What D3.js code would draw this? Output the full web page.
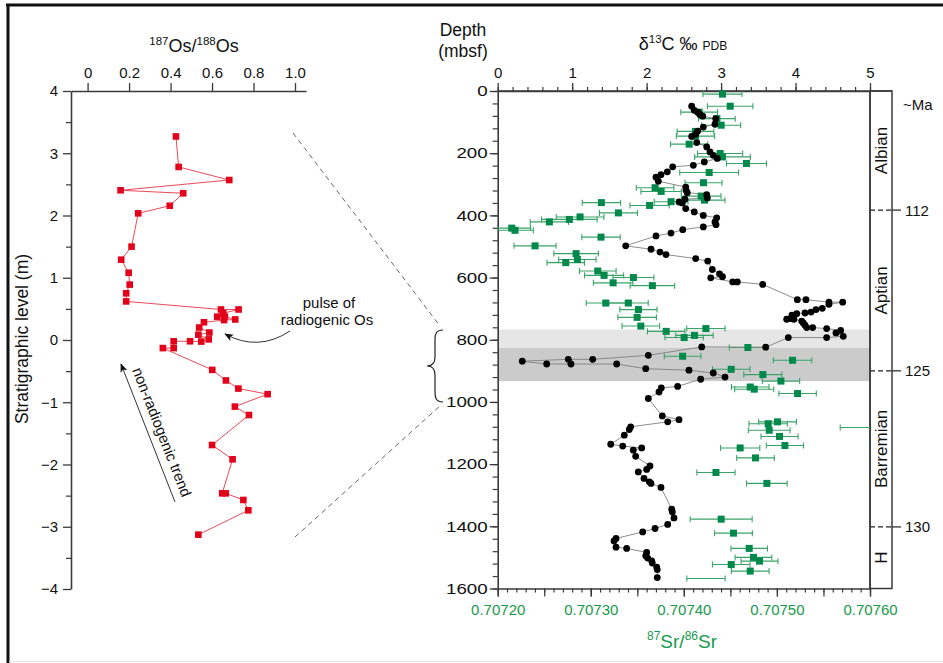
<!DOCTYPE html>
<html>
<head>
<meta charset="utf-8">
<script src="https://cdn.jsdelivr.net/npm/d3@7"></script>
<style>
  body { margin: 0; background: #fff; }
  svg { display: block; font-family: "Liberation Sans", Arial, sans-serif; }
</style>
</head>
<body>
<svg id="fig" width="943" height="663"></svg>
<script>
// ---------- Os isotope profile (stratigraphic level in m, 187Os/188Os) ----------
const osLevel = [3.27, 2.78, 2.57, 2.405, 2.357, 2.157, 2.035, 1.50, 1.29, 1.08,
  0.89, 0.75, 0.62, 0.49, 0.49, 0.43, 0.375, 0.375, 0.33, 0.32,
  0.285, 0.20, 0.12, 0.085, 0.01, -0.025, -0.02, -0.02, -0.13, -0.13,
  -0.48, -0.65, -0.78, -0.87, -1.07, -1.205, -1.687, -1.917, -2.463, -2.463,
  -2.57, -2.736, -3.127];
const osRatio = [0.426, 0.439, 0.683, 0.159, 0.461, 0.396, 0.244, 0.212, 0.162, 0.198,
  0.203, 0.186, 0.186, 0.643, 0.728, 0.654, 0.625, 0.662, 0.712, 0.658,
  0.561, 0.538, 0.587, 0.534, 0.584, 0.548, 0.494, 0.415, 0.415, 0.363,
  0.601, 0.667, 0.727, 0.868, 0.710, 0.778, 0.600, 0.699, 0.649, 0.666,
  0.751, 0.775, 0.534];
const osTicks = [0, 0.2, 0.4, 0.6, 0.8, 1.0];
const levelTicks = [-4, -3, -2, -1, 0, 1, 2, 3, 4];

// ---------- Carbon isotope profile (depth mbsf, d13C permil PDB) ----------
const carbonDepth = [49, 62, 68, 76, 81, 89, 107, 116, 129, 139,
  146, 166, 180, 196, 207, 217, 228, 239, 244, 260,
  269, 277, 290, 309, 319, 327, 333, 344, 348, 357,
  360, 378, 389, 400, 408, 421, 430, 437, 446, 457,
  466, 498, 509, 518, 526, 539, 547, 574, 588, 597,
  601, 614, 614, 622, 671, 671, 679, 679, 686, 699,
  703, 711, 714, 716, 721, 732, 734, 734, 740, 746,
  753, 761, 761, 764, 770, 778, 789, 793, 793, 824,
  823, 850, 863, 863, 869, 878, 878, 878, 893, 898,
  907, 920, 927, 950, 955, 968, 989, 1045, 1057, 1064,
  1080, 1089, 1107, 1136, 1142, 1148, 1155, 1175, 1206, 1217,
  1225, 1246, 1257, 1262, 1275, 1345, 1354, 1373, 1394, 1407,
  1418, 1439, 1447, 1467, 1471, 1484, 1495, 1502, 1511, 1518,
  1531, 1539, 1565];
const carbonValue = [2.605, 2.640, 2.686, 2.717, 2.753, 2.928, 2.918, 2.761, 2.686, 2.659,
  2.605, 2.673, 2.807, 2.851, 2.896, 2.949, 2.775, 2.627, 2.350, 2.278,
  2.193, 2.126, 2.157, 2.525, 2.529, 2.546, 2.807, 2.815, 2.515, 2.435,
  2.479, 2.525, 2.640, 2.761, 2.941, 2.918, 2.932, 2.761, 2.485, 2.327,
  2.126, 1.719, 2.059, 2.180, 2.260, 2.659, 2.820, 2.882, 2.979, 3.019,
  2.861, 3.156, 3.218, 3.559, 4.024, 4.140, 4.449, 4.633, 4.449, 4.359,
  4.275, 4.208, 4.127, 4.016, 3.952, 3.935, 3.881, 3.979, 4.083, 4.104,
  4.127, 4.150, 4.230, 4.418, 4.606, 4.543, 4.641, 4.418, 3.903, 3.599,
  2.740, 2.023, 1.276, 0.948, 0.330, 0.658, 0.984, 1.598, 1.988, 2.569,
  2.895, 3.053, 2.726, 2.417, 2.197, 2.166, 2.023, 2.211, 2.435, 2.283,
  1.786, 1.767, 1.700, 1.518, 1.679, 1.934, 1.821, 1.853, 2.045, 2.001,
  1.888, 1.965, 2.036, 2.059, 2.193, 2.337, 2.345, 2.368, 2.283, 2.113,
  1.947, 1.589, 1.562, 1.589, 1.732, 2.001, 1.988, 2.014, 2.068, 2.076,
  2.135, 2.143, 2.143];

// ---------- Strontium isotope profile (depth mbsf, 87Sr/86Sr, 2 s.e.) ----------
const srDepth = [10, 49, 68, 89, 110, 130, 145, 171, 201, 212,
  233, 262, 295, 311, 323, 338, 351, 356, 359, 368,
  392, 405, 413, 421, 441, 448, 470, 498, 523, 542,
  552, 579, 593, 600, 617, 626, 682, 682, 703, 728,
  756, 773, 764, 786, 793, 825, 853, 866, 895, 912,
  933, 952, 959, 973, 1064, 1070, 1082, 1091, 1111, 1140,
  1148, 1180, 1227, 1262, 1377, 1422, 1471, 1500, 1512, 1523,
  1544];
const srValue = [0.7074415, 0.7074498, 0.7074165, 0.7074355, 0.7074401, 0.7074125, 0.7074125, 0.7074057, 0.7074390, 0.7074415,
  0.7074673, 0.7074272, 0.7074211, 0.7073691, 0.7073756, 0.7074186, 0.7074222, 0.7073863, 0.7073114, 0.7073632,
  0.7073297, 0.7072885, 0.7072770, 0.7072555, 0.7072151, 0.7072186, 0.7073110, 0.7072401, 0.7072842, 0.7072856,
  0.7072731, 0.7073075, 0.7073143, 0.7073458, 0.7073240, 0.7073662, 0.7073161, 0.7073404, 0.7073512, 0.7073498,
  0.7073538, 0.7073810, 0.7074237, 0.7074114, 0.7074003, 0.7074688, 0.7073987, 0.7075168, 0.7074509, 0.7074849,
  0.7075043, 0.7074713, 0.7074756, 0.7075222, 0.7075006, 0.7074906, 0.7076100, 0.7074917, 0.7075028, 0.7075086,
  0.7074605, 0.7074770, 0.7074345, 0.7074892, 0.7074401, 0.7074533, 0.7074702, 0.7074748, 0.7074813, 0.7074509,
  0.7074713];
const srErr = [0.0000210, 0.0000244, 0.0000197, 0.0000197, 0.0000209, 0.0000197, 0.0000206, 0.0000200, 0.0000242, 0.0000299,
  0.0000215, 0.0000316, 0.0000199, 0.0000202, 0.0000217, 0.0000213, 0.0000220, 0.0000181, 0.0000206, 0.0000211,
  0.0000204, 0.0000256, 0.0000299, 0.0000206, 0.0000202, 0.0000197, 0.0000206, 0.0000226, 0.0000239, 0.0000201,
  0.0000201, 0.0000197, 0.0000210, 0.0000220, 0.0000212, 0.0000239, 0.0000210, 0.0000213, 0.0000200, 0.0000207,
  0.0000202, 0.0000201, 0.0000206, 0.0000201, 0.0000206, 0.0000199, 0.0000197, 0.0000206, 0.0000201, 0.0000205,
  0.0000201, 0.0000202, 0.0000210, 0.0000201, 0.0000203, 0.0000206, 0.0000420, 0.0000224, 0.0000199, 0.0000200,
  0.0000211, 0.0000202, 0.0000205, 0.0000218, 0.0000333, 0.0000203, 0.0000196, 0.0000197, 0.0000198, 0.0000202,
  0.0000203];
// sample with error range only (no mean symbol plotted)
const srRangeOnlyDepth = [1568];
const srRangeOnlyValue = [0.7074238];
const srRangeOnlyErr = [0.0000206];

const depthTicks = [0, 200, 400, 600, 800, 1000, 1200, 1400, 1600];
const carbonTicks = [0, 1, 2, 3, 4, 5];
const srTicks = [0.70720, 0.70730, 0.70740, 0.70750, 0.70760];

// stage boundaries (mbsf) with ages and stage names
const ageDepth = [383, 900, 1402];
const ageLabel = ["112", "125", "130"];
const stageTop = [0, 383, 900, 1402];
const stageBottom = [383, 900, 1402, 1600];
const stageName = ["Albian", "Aptian", "Barremian", "H"];

// shaded intervals (mbsf)
const bandTop = [767, 826];
const bandBottom = [826, 933];

// ================= drawing =================
const svg = d3.select("#fig");
const AXIS = "#3a3a3a";
const GREEN = "#179a4c";
const RED = "#e2001a";

// figure frame
svg.append("line").attr("x1", 6).attr("x2", 943).attr("y1", 5).attr("y2", 5)
  .attr("stroke", "#111").attr("stroke-width", 3);
svg.append("line").attr("x1", 8).attr("x2", 8).attr("y1", 4).attr("y2", 663)
  .attr("stroke", "#111").attr("stroke-width", 3);
svg.append("line").attr("x1", 9).attr("x2", 943).attr("y1", 661.5).attr("y2", 661.5)
  .attr("stroke", "#e2e2e2").attr("stroke-width", 1);

const defs = svg.append("defs");
defs.append("marker").attr("id", "arrow").attr("viewBox", "0 0 10 10")
  .attr("refX", 9).attr("refY", 5).attr("markerWidth", 9).attr("markerHeight", 9)
  .attr("markerUnits", "userSpaceOnUse").attr("orient", "auto")
  .append("path").attr("d", "M0,1 L10,5 L0,9 L2.5,5 Z").attr("fill", "#111");

function styleAxis(g, size) {
  g.select(".domain").attr("stroke", AXIS).attr("stroke-width", 1.6);
  g.selectAll(".tick line").attr("stroke", AXIS).attr("stroke-width", 1.3);
  g.selectAll(".tick text").attr("font-size", size).attr("fill", "#111")
    .attr("font-family", '"Liberation Sans", Arial, sans-serif');
}
function minorAxis(g) {
  g.select(".domain").remove();
  g.selectAll(".tick line").attr("stroke", AXIS).attr("stroke-width", 1.2);
}

// ---------------- left panel: Os ----------------
const osX = d3.scaleLinear().domain([-0.08, 1.053]).range([71, 306]);
const levelY = d3.scaleLinear().domain([4, -4]).range([91, 589]);

const gOsTop = svg.append("g").attr("transform", `translate(0,${levelY(4)})`)
  .call(d3.axisTop(osX).tickValues(osTicks)
    .tickFormat(d => d === 0 ? "0" : d3.format(".1f")(d))
    .tickSize(8).tickSizeOuter(0).tickPadding(5));
styleAxis(gOsTop, 15);

const gLevMinor = svg.append("g").attr("transform", `translate(${osX.range()[0]},0)`)
  .call(d3.axisLeft(levelY).tickValues(d3.range(-3.5, 4, 1)).tickSize(5).tickFormat(""));
minorAxis(gLevMinor);
const gLev = svg.append("g").attr("transform", `translate(${osX.range()[0]},0)`)
  .call(d3.axisLeft(levelY).tickValues(levelTicks).tickFormat(d3.format("d"))
    .tickSize(8).tickSizeOuter(0).tickPadding(5));
styleAxis(gLev, 15);

// title and axis label
const osTitle = svg.append("text").attr("x", 194).attr("y", 52)
  .attr("text-anchor", "middle").attr("font-size", 18).attr("fill", "#111");
osTitle.append("tspan").attr("font-size", 11.5).attr("dy", -7).text("187");
osTitle.append("tspan").attr("dy", 7).text("Os/");
osTitle.append("tspan").attr("font-size", 11.5).attr("dy", -7).text("188");
osTitle.append("tspan").attr("dy", 7).text("Os");

svg.append("text").attr("transform", "translate(28,339) rotate(-90)")
  .attr("text-anchor", "middle").attr("font-size", 17.5).attr("fill", "#111")
  .text("Stratigraphic level (m)");

// Os line and markers
const osPts = osLevel.map((l, i) => [osX(osRatio[i]), levelY(l)]);
svg.append("path").attr("d", d3.line()(osPts))
  .attr("fill", "none").attr("stroke", "#ea4a5a").attr("stroke-width", 1);
svg.append("g").selectAll("rect").data(osPts).join("rect")
  .attr("x", d => d[0] - 3.3).attr("y", d => d[1] - 3.3)
  .attr("width", 6.6).attr("height", 6.6).attr("fill", RED);

// annotations
svg.append("text").attr("x", 329).attr("y", 308).attr("text-anchor", "middle")
  .attr("font-size", 15).attr("fill", "#111").text("pulse of");
svg.append("text").attr("x", 327).attr("y", 325).attr("text-anchor", "middle")
  .attr("font-size", 15).attr("fill", "#111").text("radiogenic Os");
svg.append("path").attr("d", "M290,331 Q258,352 225,334")
  .attr("fill", "none").attr("stroke", "#333").attr("stroke-width", 1)
  .attr("marker-end", "url(#arrow)");

svg.append("line").attr("x1", 175).attr("y1", 502).attr("x2", 121).attr("y2", 364)
  .attr("stroke", "#333").attr("stroke-width", 1).attr("marker-end", "url(#arrow)");
svg.append("text").attr("transform", "translate(157,434) rotate(68.6)")
  .attr("text-anchor", "middle").attr("font-size", 15).attr("fill", "#111")
  .text("non-radiogenic trend");

// connector lines and brace
svg.append("line").attr("x1", 293).attr("y1", 133).attr("x2", 440).attr("y2", 326)
  .attr("stroke", "#555").attr("stroke-width", 0.9).attr("stroke-dasharray", "5,4");
svg.append("line").attr("x1", 295).attr("y1", 537).attr("x2", 441).attr("y2", 405)
  .attr("stroke", "#555").attr("stroke-width", 0.9).attr("stroke-dasharray", "5,4");
svg.append("path")
  .attr("d", "M443,330 C436,330 435,334 435,340 L435,357 C435,363 432,366 427,366 C432,366 435,369 435,375 L435,392 C435,398 436,402 443,402")
  .attr("fill", "none").attr("stroke", "#222").attr("stroke-width", 1.2);

// ---------------- right panel: d13C and Sr ----------------
const depthY = d3.scaleLinear().domain([0, 1600]).range([91, 588.5]);
const cX = d3.scaleLinear().domain([0, 5]).range([497.7, 870]);
const srX = d3.scaleLinear().domain([0.70720, 0.70760]).range([497.7, 870]);
const stageX0 = 870, stageX1 = 892;

// shaded intervals
svg.append("g").selectAll("rect").data(bandTop).join("rect")
  .attr("x", cX(0)).attr("width", cX(5) - cX(0))
  .attr("y", d => depthY(d)).attr("height", (d, i) => depthY(bandBottom[i]) - depthY(d))
  .attr("fill", (d, i) => i === 0 ? "#e6e6e6" : "#cbcbcb");

// stage column
svg.append("rect").attr("x", stageX0).attr("y", depthY(0))
  .attr("width", stageX1 - stageX0).attr("height", depthY(1600) - depthY(0))
  .attr("fill", "none").attr("stroke", AXIS).attr("stroke-width", 1.5);
svg.append("line").attr("x1", cX(0)).attr("x2", stageX1).attr("y1", depthY(0)).attr("y2", depthY(0))
  .attr("stroke", AXIS).attr("stroke-width", 1.6);

stageName.forEach((s, i) => {
  const yc = depthY((stageTop[i] + stageBottom[i]) / 2);
  svg.append("text").attr("transform", `translate(${(stageX0 + stageX1) / 2 + 6},${yc}) rotate(-90)`)
    .attr("text-anchor", "middle").attr("font-size", 17).attr("fill", "#111").text(s);
});
ageDepth.forEach((d, i) => {
  const y = depthY(d);
  svg.append("line").attr("x1", stageX0).attr("x2", stageX1).attr("y1", y).attr("y2", y)
    .attr("stroke", "#222").attr("stroke-width", 1.2).attr("stroke-dasharray", "5,3");
  svg.append("line").attr("x1", stageX1).attr("x2", stageX1 + 9).attr("y1", y).attr("y2", y)
    .attr("stroke", "#222").attr("stroke-width", 1.2);
  svg.append("text").attr("x", stageX1 + 13).attr("y", y + 5.5)
    .attr("font-size", 15).attr("fill", "#111").text(ageLabel[i]);
});
svg.append("text").attr("x", 903).attr("y", 110).attr("font-size", 15).attr("fill", "#111").text("~Ma");

// axes
const gCMinor = svg.append("g").attr("transform", `translate(0,${depthY(0)})`)
  .call(d3.axisTop(cX).tickValues(d3.range(0, 26).map(i => i * 0.2)).tickSize(4).tickFormat(""));
minorAxis(gCMinor);
const gC = svg.append("g").attr("transform", `translate(0,${depthY(0)})`)
  .call(d3.axisTop(cX).tickValues(carbonTicks).tickFormat(d3.format("d"))
    .tickSize(8).tickSizeOuter(0).tickPadding(5));
styleAxis(gC, 15);

const gDMinor = svg.append("g").attr("transform", `translate(${cX(0)},0)`)
  .call(d3.axisLeft(depthY).tickValues(d3.range(0, 41).map(i => i * 40)).tickSize(5).tickFormat(""));
minorAxis(gDMinor);
const gD = svg.append("g").attr("transform", `translate(${cX(0)},0)`)
  .call(d3.axisLeft(depthY).tickValues(depthTicks).tickFormat(d3.format("d"))
    .tickSize(8).tickSizeOuter(0).tickPadding(3));
styleAxis(gD, 15);
gD.selectAll(".tick text").attr("x", -10 / 1.25).attr("transform", "scale(1.25,1)");

const gSMinor = svg.append("g").attr("transform", `translate(0,${depthY(1600)})`)
  .call(d3.axisBottom(srX).tickValues(d3.range(0, 41).map(i => 0.7072 + i * 1e-5)).tickSize(4).tickFormat(""));
minorAxis(gSMinor);
const gSMid = svg.append("g").attr("transform", `translate(0,${depthY(1600)})`)
  .call(d3.axisBottom(srX).tickValues(d3.range(0, 9).map(i => 0.7072 + i * 5e-5)).tickSize(8).tickFormat(""));
minorAxis(gSMid);
const gS = svg.append("g").attr("transform", `translate(0,${depthY(1600)})`)
  .call(d3.axisBottom(srX).tickValues(srTicks).tickFormat(d3.format(".5f"))
    .tickSize(8).tickSizeOuter(0).tickPadding(8));
styleAxis(gS, 15);
gS.selectAll(".tick text").attr("fill", GREEN);

// right-hand plot border
svg.append("line").attr("x1", cX(5)).attr("x2", cX(5)).attr("y1", depthY(0)).attr("y2", depthY(1600))
  .attr("stroke", AXIS).attr("stroke-width", 1.5);

// titles
svg.append("text").attr("x", 463).attr("y", 36).attr("text-anchor", "middle")
  .attr("font-size", 17.5).attr("fill", "#111").text("Depth");
svg.append("text").attr("x", 463).attr("y", 57).attr("text-anchor", "middle")
  .attr("font-size", 17.5).attr("fill", "#111").text("(mbsf)");

const cTitle = svg.append("text").attr("x", 683).attr("y", 50)
  .attr("text-anchor", "middle").attr("font-size", 18).attr("fill", "#111");
cTitle.append("tspan").text("δ");
cTitle.append("tspan").attr("font-size", 11.5).attr("dy", -7).text("13");
cTitle.append("tspan").attr("dy", 7).text("C ‰ ");
cTitle.append("tspan").attr("font-size", 12).text("PDB");

const sTitle = svg.append("text").attr("x", 682).attr("y", 648)
  .attr("text-anchor", "middle").attr("font-size", 19).attr("fill", GREEN);
sTitle.append("tspan").attr("font-size", 12).attr("dy", -8).text("87");
sTitle.append("tspan").attr("dy", 8).text("Sr/");
sTitle.append("tspan").attr("font-size", 12).attr("dy", -8).text("86");
sTitle.append("tspan").attr("dy", 8).text("Sr");

// clip for the data area
defs.append("clipPath").attr("id", "plotClip").append("rect")
  .attr("x", cX(0)).attr("y", depthY(0) - 6).attr("width", cX(5) - cX(0)).attr("height", depthY(1600) - depthY(0) + 6);

const gData = svg.append("g").attr("clip-path", "url(#plotClip)");

// Sr error bars
const srRows = srDepth.map((d, i) => ({ d, v: srValue[i], e: srErr[i], mark: true }))
  .concat(srRangeOnlyDepth.map((d, i) => ({ d, v: srRangeOnlyValue[i], e: srRangeOnlyErr[i], mark: false })));
const gErr = gData.append("g").attr("stroke", "#3aa368").attr("stroke-width", 1.1).attr("fill", "none");
srRows.forEach(r => {
  const y = depthY(r.d), x0 = srX(r.v - r.e), x1 = srX(r.v + r.e);
  gErr.append("line").attr("x1", x0).attr("x2", x1).attr("y1", y).attr("y2", y);
  gErr.append("line").attr("x1", x0).attr("x2", x0).attr("y1", y - 3).attr("y2", y + 3);
  gErr.append("line").attr("x1", x1).attr("x2", x1).attr("y1", y - 3).attr("y2", y + 3);
});

// carbon line and dots
const cPts = carbonDepth.map((d, i) => [cX(carbonValue[i]), depthY(d)]);
gData.append("path").attr("d", d3.line()(cPts))
  .attr("fill", "none").attr("stroke", "#808080").attr("stroke-width", 0.9);

// Sr means
gData.append("g").selectAll("rect").data(srRows.filter(r => r.mark)).join("rect")
  .attr("x", r => srX(r.v) - 3.5).attr("y", r => depthY(r.d) - 3.5)
  .attr("width", 7).attr("height", 7).attr("fill", "#00894a");

gData.append("g").selectAll("circle").data(cPts).join("circle")
  .attr("cx", d => d[0]).attr("cy", d => d[1]).attr("r", 3.4).attr("fill", "#000");
</script>
</body>
</html>
